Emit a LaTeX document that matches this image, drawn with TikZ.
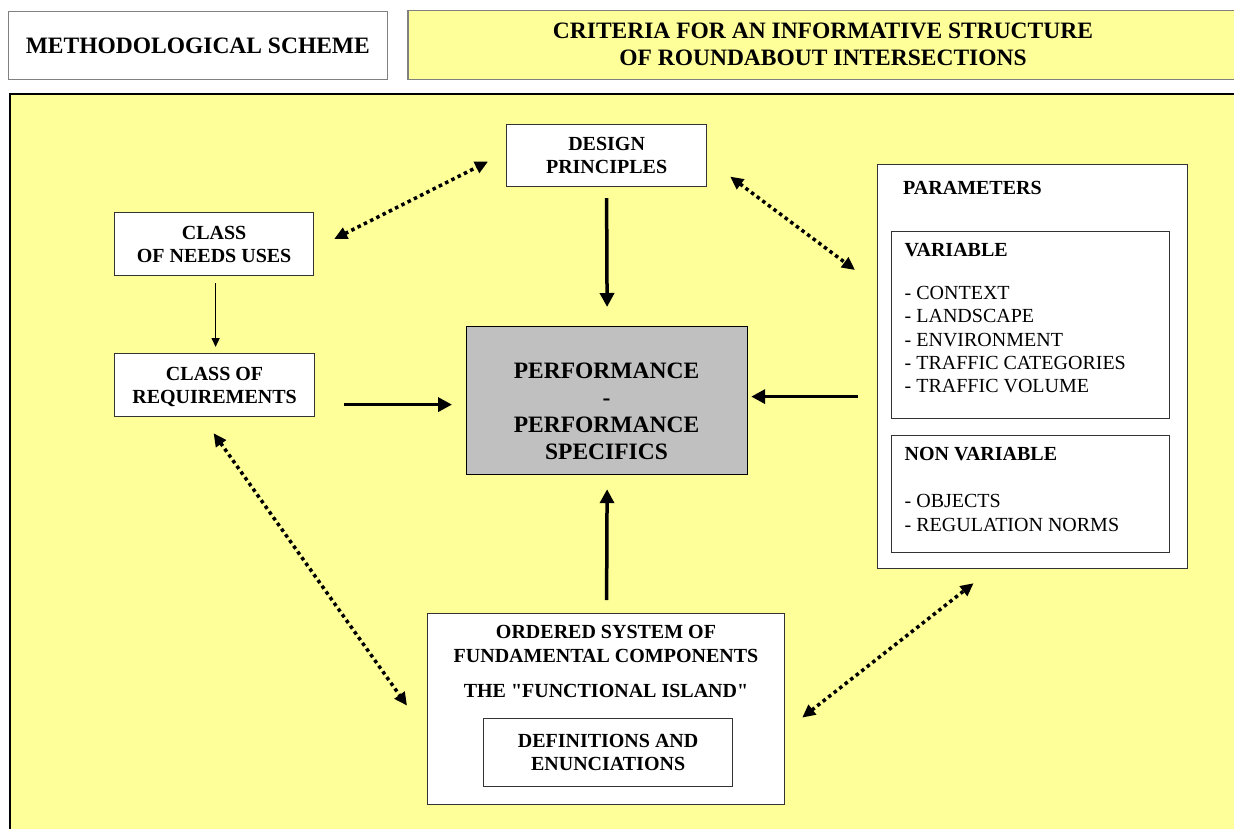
\documentclass[tikz,border=0pt]{standalone}
\usepackage{fontspec}
\setmainfont{Liberation Serif}[Ligatures=TeXOff]
\usetikzlibrary{arrows.meta,calc}
\definecolor{pale}{HTML}{FFFF99}
\definecolor{perfgray}{HTML}{C0C0C0}
\definecolor{edgegray}{HTML}{808080}
\begin{document}
\begin{tikzpicture}[x=1pt,y=-1pt,
  box/.style={draw=black!80, line width=1.2pt, fill=white, inner sep=0pt, anchor=north west,
    align=center, text depth=0pt, font=\fontsize{20}{23}\selectfont\bfseries},
  hdr/.style={inner sep=0pt, align=center, text depth=0pt, font=\fontsize{23.5}{27}\selectfont\bfseries},
  lbl/.style={inner sep=0pt, align=center, text depth=0pt, font=\fontsize{20}{23}\selectfont\bfseries},
  lst/.style={inner sep=0pt, align=left, text depth=0pt, anchor=west},
  thickarrow/.style={line width=3.5pt, -{Triangle[length=14pt,width=14pt]}},
  thinarrow/.style={line width=1.5pt, -{Triangle[length=9pt,width=8pt]}},
  dotarrow/.style={line width=3.5pt, dash pattern=on 3.5pt off 3.5pt,
    {Triangle[length=13pt,width=12pt]}-{Triangle[length=13pt,width=12pt]}}
]
\useasboundingbox (0,0) rectangle (1234,828);
\fill[white] (0,0) rectangle (1234,828);

% header boxes
\node[box, draw=edgegray, line width=1.6pt, minimum width=379pt, minimum height=68pt,
  font=\fontsize{23.5}{27}\selectfont\bfseries] (meth) at (7.5,10.5) {METHODOLOGICAL SCHEME};
\node[box, draw=edgegray, line width=1.6pt, fill=pale, minimum width=850pt, minimum height=69pt] (crit) at (407,9.5) {};
\node[hdr] (crittext) at (823,44.5) {CRITERIA FOR AN INFORMATIVE STRUCTURE\\OF ROUNDABOUT INTERSECTIONS};

% background panel
\draw[black, line width=1.5pt, fill=pale] (10,94) rectangle (1260,850);

% boxes
\node[box, minimum width=200pt, minimum height=62pt] (dp) at (506,124) {DESIGN\\PRINCIPLES};
\node[box, minimum width=199pt, minimum height=63pt] (cn) at (114,212) {CLASS\\OF NEEDS USES};
\node[box, minimum width=200pt, minimum height=63pt] (cr) at (114,353) {CLASS OF\\REQUIREMENTS};

\node[box, fill=perfgray, draw=black, minimum width=281pt, minimum height=148pt] (perf) at (466,326) {};
\node[hdr] (perftext) at (606.5,411.5) {PERFORMANCE\\-\\PERFORMANCE\\SPECIFICS};

% parameters
\node[box, minimum width=310pt, minimum height=404pt] (par) at (877,164) {};
\node[box, minimum width=278pt, minimum height=187pt] (var) at (890.5,231) {};
\node[box, minimum width=278pt, minimum height=117pt] (nonvar) at (890.5,435) {};
\node[lbl, anchor=west] (partext) at (903,188) {PARAMETERS};
\node[lbl, anchor=west] (vartext) at (904.5,250) {VARIABLE};
\node[lst, font=\fontsize{20}{23.25}\selectfont] (varlist) at (904.5,339.5)
  {- CONTEXT\\- LANDSCAPE\\- ENVIRONMENT\\- TRAFFIC CATEGORIES\\- TRAFFIC VOLUME};
\node[lbl, anchor=west] (nonvartext) at (904.5,454) {NON VARIABLE};
\node[lst, font=\fontsize{20}{24}\selectfont] (nonvarlist) at (904.5,513)
  {- OBJECTS\\- REGULATION NORMS};

% ordered system
\node[box, minimum width=357pt, minimum height=191pt] (ord) at (427,612.5) {};
\node[lbl, font=\fontsize{20}{24.5}\selectfont\bfseries] (ordtext) at (606,644)
  {ORDERED SYSTEM OF\\FUNDAMENTAL COMPONENTS};
\node[lbl] (island) at (606,691) {THE "FUNCTIONAL ISLAND"};
\node[box, minimum width=249pt, minimum height=68pt] (def) at (483,718) {DEFINITIONS AND\\ENUNCIATIONS};

% solid arrows
\draw[thickarrow] ($(dp.south)+(0,11)$) -- ($(perf.north)+(0,-19)$);
\draw[thinarrow] ($(cn.south)+(1.5,7)$) -- ($(cr.north)+(1,-6)$);
\draw[thickarrow] ($(cr.east)+(29,19.5)$) -- ($(perf.west)+(-14,4)$);
\draw[thickarrow] ($(par.west)+(-19,30)$) -- ($(perf.east)+(3,-4)$);
\draw[thickarrow] ($(ord.north)+(0.5,-12.5)$) -- ($(perf.south)+(0,14)$);

% dotted double arrows
\draw[dotarrow] ($(cn.north east)+(20,27)$) -- ($(dp.west)+(-18,6)$);
\draw[dotarrow] ($(dp.east)+(23,21)$) -- ($(par.north west)+(-22,106)$);
\draw[dotarrow] ($(cr.south)+(-1,16)$) -- ($(ord.west)+(-20,-3)$);
\draw[dotarrow] ($(ord.east)+(17,9)$) -- ($(par.south)+(-59,14)$);
\end{tikzpicture}
\end{document}
